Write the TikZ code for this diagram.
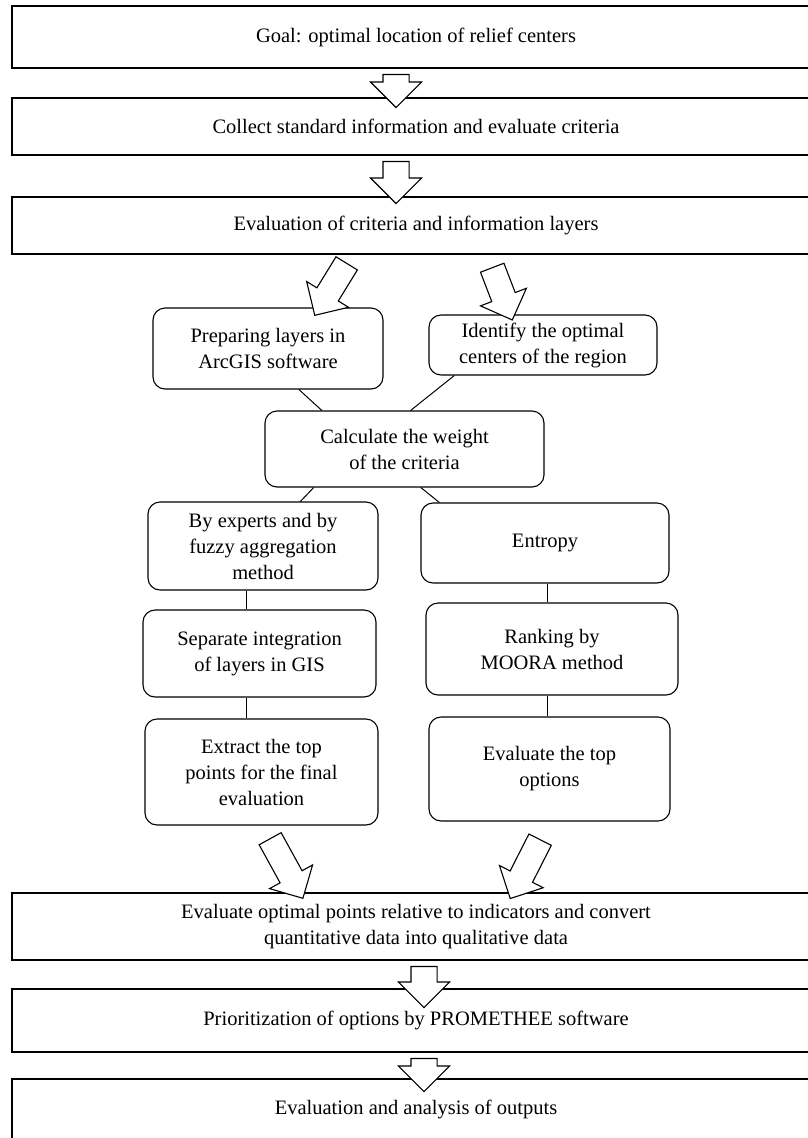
\documentclass[tikz,border=0pt]{standalone}
\usepackage{fontspec}
\setmainfont{Liberation Serif}
\usetikzlibrary{shapes,arrows.meta,calc,positioning}
\tikzset{
    semithick,
    txt/.style={align=center, font=\fontsize{20.5}{26}\selectfont},
    block/.style={rectangle, draw, line width=1.1pt, minimum width=808pt, inner sep=0pt, txt},
    rbox/.style={rectangle, draw, rounded corners=12pt, line width=1.1pt, inner sep=0pt, txt},
    fat/.style={single arrow, draw, fill=white, line width=1.1pt, inner xsep=0pt,
        inner ysep=12pt, single arrow head extend=12pt},
    wide fat/.style={fat, inner ysep=12.5pt, single arrow head extend=12.5pt},
    link/.style={line width=1pt}
}

\begin{document}
\begin{tikzpicture}[x=1pt,y=1pt]
        \useasboundingbox (0,0) rectangle (808,-1138);

        % wide steps
        \node[block, minimum height=62pt] (goal) at (416,-37) {Goal: optimal location of relief centers};
        \node[block, minimum height=57pt] (collect) at (416,-126.5) {Collect standard information and evaluate criteria};
        \node[block, minimum height=57pt] (layers) at (416,-225.5) {Evaluation of criteria and information layers};
        \node[block, minimum height=67pt] (points) at (416,-926.5) {Evaluate optimal points relative to indicators and convert\\ quantitative data into qualitative data};
        \node[block, minimum height=63pt] (prom) at (416,-1020.5) {Prioritization of options by PROMETHEE software};
        \node[block, minimum height=61pt] (outputs) at (416,-1109.5) {Evaluation and analysis of outputs};

        % rounded steps
        \node[rbox, minimum width=230pt, minimum height=81pt] (arcgis) at (268,-348.5) {Preparing layers in\\ ArcGIS software};
        \node[rbox, minimum width=228pt, minimum height=60pt] (centers) at (543,-345) {Identify the optimal\\ centers of the region};
        \node[rbox, minimum width=279pt, minimum height=76pt] (weight) at (404.5,-449) {Calculate the weight\\ of the criteria};
        \node[rbox, minimum width=230pt, minimum height=88pt] (experts) at (263,-546) {By experts and by\\ fuzzy aggregation\\ method};
        \node[rbox, minimum width=248pt, minimum height=80pt] (entropy) at (545,-543) {Entropy};
        \node[rbox, minimum width=233pt, minimum height=87pt] (gis) at (259.5,-653.5) {Separate integration\\ of layers in GIS};
        \node[rbox, minimum width=252pt, minimum height=92pt] (moora) at (552,-649) {Ranking by\\ MOORA method};
        \node[rbox, minimum width=233pt, minimum height=106pt] (extract) at (261.5,-772) {Extract the top\\ points for the final\\ evaluation};
        \node[rbox, minimum width=241pt, minimum height=104pt] (options) at (549.5,-769) {Evaluate the top\\ options};

        % block arrows
        \node[wide fat, minimum height=33pt, rotate=-90] (f1) at (396,-84.5) {};
        \node[wide fat, minimum height=42pt, rotate=-90] (f2) at (396,-176) {};
        \node[fat, minimum height=61pt, rotate=-121.6] (f3) at (334,-284) {};
        \node[fat, minimum height=56pt, rotate=-69] (f4) at (500,-288) {};
        \node[fat, minimum height=68pt, rotate=-61.2] (f5) at (283.5,-863) {};
        \node[fat, minimum height=66pt, rotate=-116.9] (f6) at (528,-863.5) {};
        \node[wide fat, minimum height=41pt, rotate=-90] (f7) at (424,-980.5) {};
        \node[wide fat, minimum height=33pt, rotate=-90] (f8) at (424,-1068.5) {};

        % thin links
        \coordinate (lx) at (246,0);
        \coordinate (rx) at (547,0);
        \draw[link] (arcgis.-53.5) -- (weight.155);
        \draw[link] (centers.-161.6) -- (weight.81.8);
        \draw[link] (weight.-157.4) -- (experts.50);
        \draw[link] (weight.-67.8) -- (entropy.159.7);
        \draw[link] (experts.south -| lx) -- (gis.north -| lx);
        \draw[link] (gis.south -| lx) -- (extract.north -| lx);
        \draw[link] (entropy.south -| rx) -- (moora.north -| rx);
        \draw[link] (moora.south -| rx) -- (options.north -| rx);
\end{tikzpicture}
\end{document}
